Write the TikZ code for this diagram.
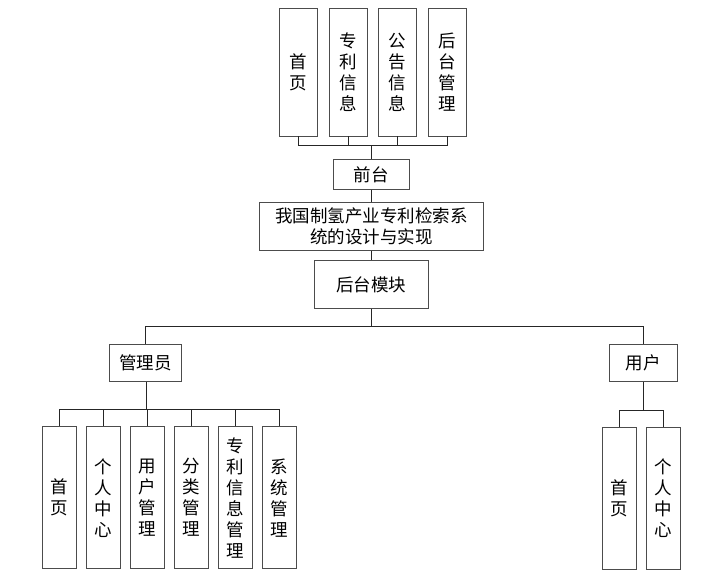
\documentclass[tikz,border=0pt]{standalone}
\usepackage{fontspec}
\newfontfamily\cjk{Noto Sans CJK SC}
\tikzset{
  box/.style={draw=black!70,line width=0.9pt,fill=white,inner sep=0pt,align=center,
    font=\cjk\fontsize{17.5}{21}\selectfont},
  tallbox/.style={box,minimum width=38,minimum height=128},
  lowbox/.style={box,minimum width=34,minimum height=142},
  link/.style={line width=0.8pt,black!85}
}
\begin{document}
\begin{tikzpicture}[x=1pt,y=-1pt]
\useasboundingbox (0,0) rectangle (725,585);
\node[tallbox] (home) at (298.5,72) {首\\页};
\node[tallbox] (patent) at (348.3,72) {专\\利\\信\\息};
\node[tallbox] (notice) at (397.7,72) {公\\告\\信\\息};
\node[tallbox] (manage) at (447.2,72) {后\\台\\管\\理};
\node[box,minimum width=76,minimum height=30] (front) at (371.3,174.3) {前台};
\node[box,minimum width=224,minimum height=48] (title) at (371.3,226.2) {我国制氢产业专利检索系\\统的设计与实现};
\node[box,minimum width=114,minimum height=48] (back) at (371.3,284.5) {后台模块};
\node[box,minimum width=72,minimum height=37] (admin) at (145.5,363.3) {管理员};
\node[box,minimum width=68,minimum height=37] (user) at (643.3,363.3) {用户};
\node[lowbox] (a1) at (59,497.7) {首\\页};
\node[lowbox] (a2) at (103,497.7) {个\\人\\中\\心};
\node[lowbox] (a3) at (147,497.7) {用\\户\\管\\理};
\node[lowbox] (a4) at (191,497.7) {分\\类\\管\\理};
\node[lowbox] (a5) at (235,497.7) {专\\利\\信\\息\\管\\理};
\node[lowbox] (a6) at (279,497.7) {系\\统\\管\\理};
\node[lowbox] (u1) at (619.3,498.5) {首\\页};
\node[lowbox] (u2) at (663.5,498.5) {个\\人\\中\\心};
\coordinate (topbus) at (371.3,145.3);
\coordinate (midbus) at (371.3,326);
\coordinate (adminbus) at (146,409);
\coordinate (userbus) at (643.3,410);
\foreach \n in {home,patent,notice,manage}
  \draw[link] (\n.south) |- (topbus);
\draw[link] (topbus) -- (front);
\draw[link] (front) -- (title);
\draw[link] (title) -- (back);
\draw[link] (back) -- (midbus);
\draw[link] (midbus) -| (admin.north);
\draw[link] (midbus) -| (user.north);
\draw[link] (admin.south -| adminbus) -- (adminbus);
\foreach \n in {a1,a2,a3,a4,a5,a6}
  \draw[link] (adminbus) -| (\n.north);
\draw[link] (user) -- (userbus);
\foreach \n in {u1,u2}
  \draw[link] (userbus) -| (\n.north);
\end{tikzpicture}
\end{document}
